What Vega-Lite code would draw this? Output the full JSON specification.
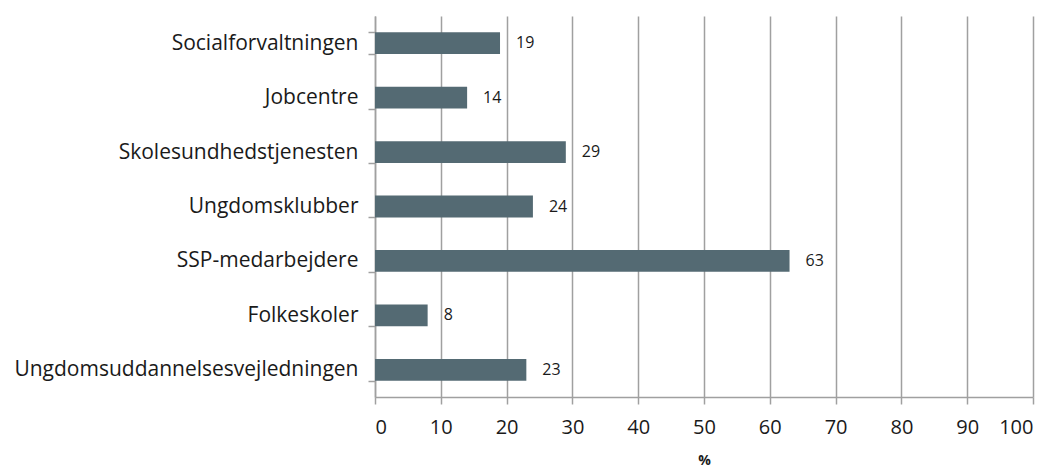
{
  "$schema": "https://vega.github.io/schema/vega-lite/v6.json",
  "autosize": "none",
  "padding": {"left": 375, "top": 16, "right": 21, "bottom": 74},
  "width": 658,
  "height": 381,
  "background": "white",
  "config": {"view": {"stroke": null}, "font": "Open Sans"},
  "data": {"values": [
    {"category": "Socialforvaltningen", "value": 19},
    {"category": "Jobcentre", "value": 14},
    {"category": "Skolesundhedstjenesten", "value": 29},
    {"category": "Ungdomsklubber", "value": 24},
    {"category": "SSP-medarbejdere", "value": 63},
    {"category": "Folkeskoler", "value": 8},
    {"category": "Ungdomsuddannelsesvejledningen", "value": 23}
  ]},
  "encoding": {
    "y": {"field": "category", "type": "nominal", "sort": null,
      "scale": {"paddingInner": 0.6, "paddingOuter": 0.3},
      "axis": {"title": null, "tickBand": "extent", "domainColor": "#A0A0A0", "domainWidth": 1.5, "tickColor": "#A0A0A0", "tickWidth": 1.5, "tickSize": 7, "labelFontSize": 21, "labelColor": "#1a1a1a", "labelPadding": 10, "labelLimit": 400, "labelFont": "Open Sans"}},
    "x": {"field": "value", "type": "quantitative",
      "scale": {"domain": [0, 100], "nice": false},
      "axis": {"title": "%", "titleFontSize": 14, "titleFontWeight": "bold", "titleColor": "#1a1a1a", "titlePadding": 16, "values": [0,10,20,30,40,50,60,70,80,90,100], "grid": true, "gridColor": "#A0A0A0", "gridWidth": 1.5, "domainColor": "#A0A0A0", "domainWidth": 1.5, "tickColor": "#A0A0A0", "tickWidth": 1.5, "tickSize": 7, "labelFontSize": 20, "labelColor": "#1a1a1a", "labelPadding": 13, "labelFont": "Open Sans"}}
  },
  "layer": [
    {"mark": {"type": "bar", "color": "#546A73"}},
    {"mark": {"type": "text", "align": "left", "dx": 16, "fontSize": 16, "color": "#1a1a1a", "font": "Open Sans"},
     "encoding": {"text": {"field": "value", "type": "quantitative"}}}
  ]
}
